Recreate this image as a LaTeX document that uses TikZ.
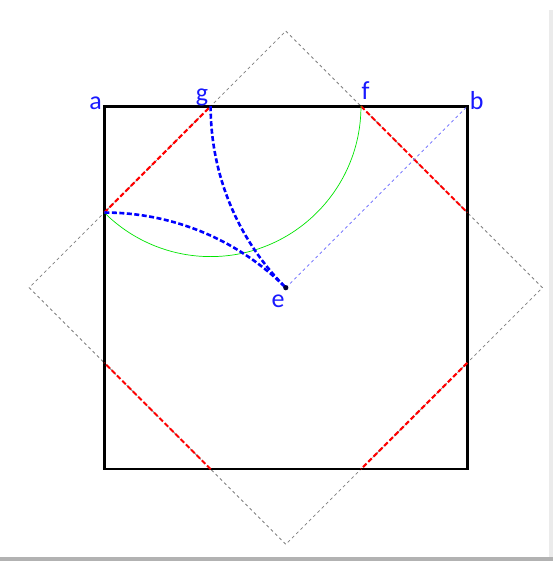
\documentclass[tikz,border=0pt]{standalone}
\usepackage{fontspec}
\setmainfont{Carlito}
\begin{document}
\begin{tikzpicture}[x=1pt,y=1pt,
  sq/.style={line width=2.6pt,black},
  oct/.style={line width=2pt,red,dash pattern=on 5pt off 2.5pt},
  dia/.style={line width=0.8pt,gray,dash pattern=on 3pt off 3pt},
  bluecurve/.style={line width=2.6pt,blue,dash pattern=on 5pt off 2.5pt},
  diag/.style={line width=0.7pt,blue!60,dash pattern=on 3pt off 3pt},
  greenarc/.style={line width=0.7pt,green!90!black},
  lab/.style={text=blue!90!white,font=\fontsize{26}{26}\selectfont,inner sep=0pt,anchor=base}]
\useasboundingbox (0,0) rectangle (553,-561);
\fill[white] (0,0) rectangle (553,-561);
\fill[black!30] (0,-557) rectangle (553,-561);
\fill[black!8] (549,-10) rectangle (553,-557);
\begin{scope}[shift={(285.8,-287.7)},scale=181.5]
  \coordinate (a) at (-1,1);
  \coordinate (b) at (1,1);
  \coordinate (c) at (1,-1);
  \coordinate (d) at (-1,-1);
  \coordinate (e) at (0,0);
  \coordinate (g) at (-0.41421,1);
  \coordinate (f) at (0.41421,1);
  \coordinate (r1) at (1,0.41421);
  \coordinate (r2) at (1,-0.41421);
  \coordinate (b1) at (0.41421,-1);
  \coordinate (b2) at (-0.41421,-1);
  \coordinate (h) at (-1,0.41421);
  \coordinate (l2) at (-1,-0.41421);
  \coordinate (dt) at (0,1.41421);
  \coordinate (dr) at (1.41421,0);
  \coordinate (db) at (0,-1.41421);
  \coordinate (dl) at (-1.41421,0);
  % rotated square
  \draw[dia] (dt) -- (dr) -- (db) -- (dl) -- cycle;
  % square
  \draw[sq] (a) -- (b) -- (c) -- (d) -- cycle;
  % octagon diagonal edges
  \draw[oct] (h) -- (g);
  \draw[oct] (f) -- (r1);
  \draw[oct] (r2) -- (b1);
  \draw[oct] (b2) -- (l2);
  % green arc centred at g
  \draw[greenarc] (f) arc[start angle=0,end angle=-135,radius=0.82843];
  % diagonal e-b
  \draw[diag] (e) -- (b);
  % blue arcs
  \draw[bluecurve] (g) arc[start angle=180,end angle=225,radius=1.41421];
  \draw[bluecurve] (h) arc[start angle=90,end angle=45,radius=1.41421];
\end{scope}
\fill[black!80!blue] (e) circle[radius=2.6pt];
\node[lab] (la) at (95.7,-109.5) {a};
\node[lab] (lg) at (202,-101.5) {g};
\node[lab] (lf) at (365.5,-100) {f};
\node[lab] (lb) at (476.7,-110) {b};
\node[lab] (le) at (278,-307.5) {e};
\end{tikzpicture}
\end{document}
